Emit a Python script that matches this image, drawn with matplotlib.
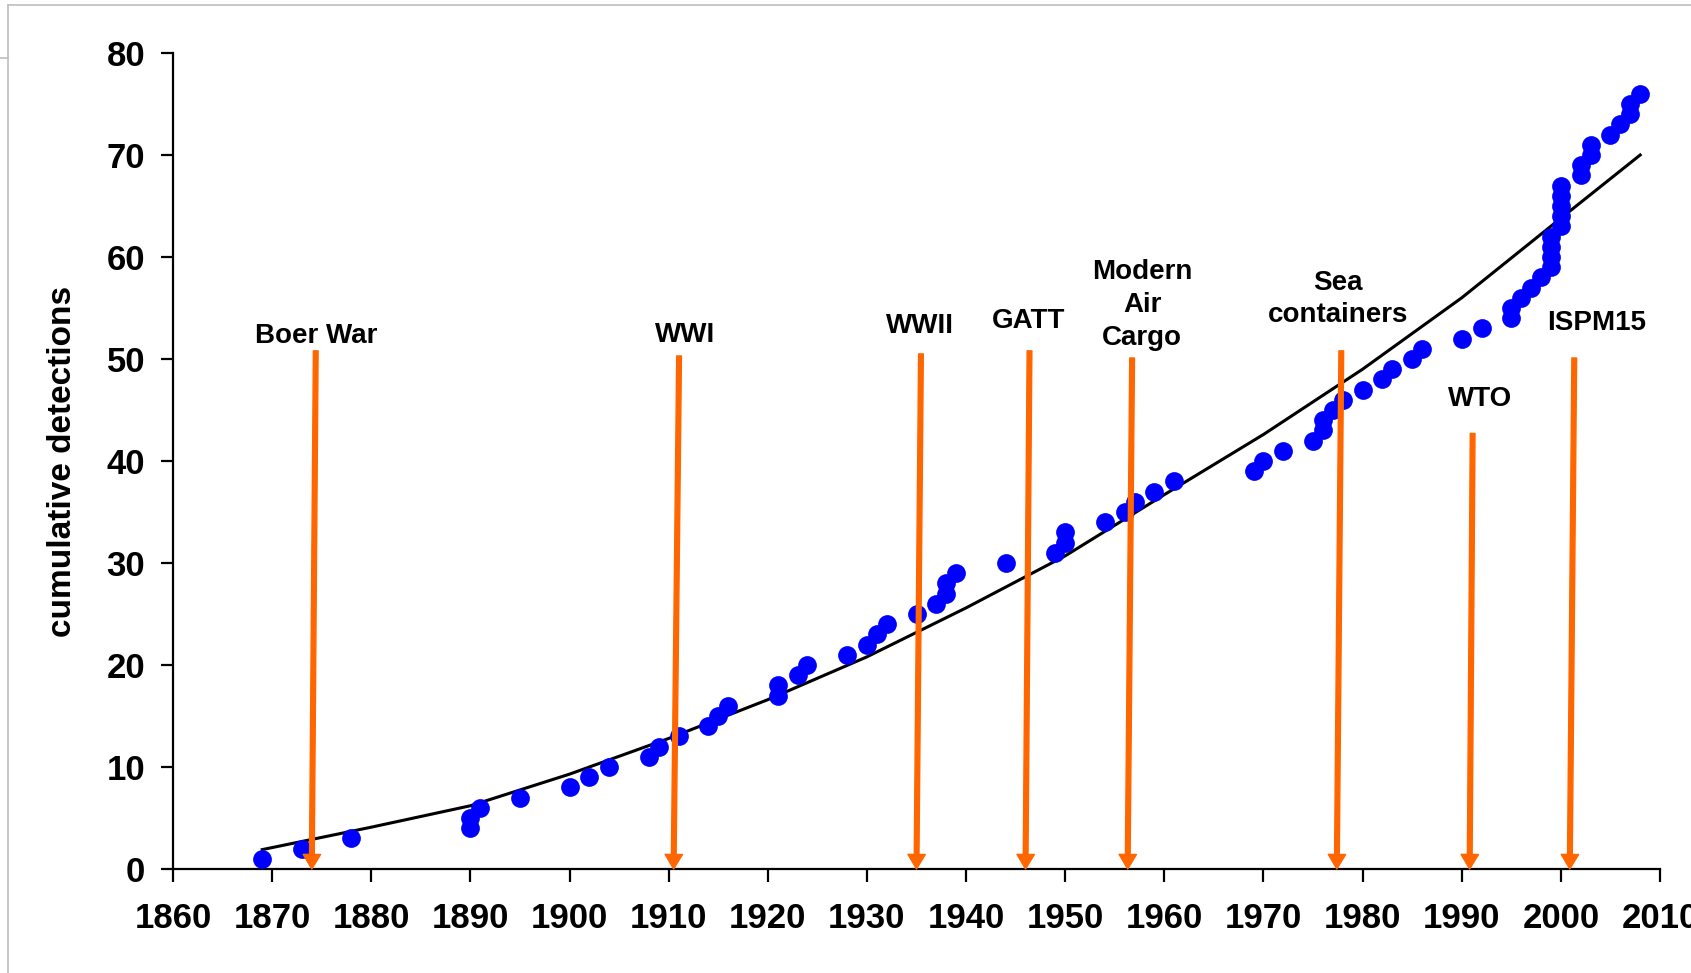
import matplotlib
matplotlib.use("Agg")
import matplotlib.pyplot as plt
from matplotlib.lines import Line2D

plt.rcParams['font.family'] = ['Liberation Sans', 'DejaVu Sans']
plt.rcParams['font.weight'] = 'bold'

# ---- data -------------------------------------------------------------
years = [1869, 1873, 1878, 1890, 1890, 1891, 1895, 1900, 1902, 1904,
         1908, 1909, 1911, 1914, 1915, 1916, 1921, 1921, 1923, 1924,
         1928, 1930, 1931, 1932, 1935, 1937, 1938, 1938, 1939, 1944,
         1949, 1950, 1950, 1954, 1956, 1957, 1959, 1961, 1969, 1970,
         1972, 1975, 1976, 1976, 1977, 1978, 1980, 1982, 1983, 1985,
         1986, 1990, 1992, 1995, 1995, 1996, 1997, 1998, 1999, 1999,
         1999, 1999, 2000, 2000, 2000, 2000, 2000, 2002, 2002, 2003,
         2003, 2005, 2006, 2007, 2007, 2008]
detections = list(range(1, len(years) + 1))

trend_years = [1869, 1880, 1890, 1900, 1910, 1920, 1930, 1940, 1950,
               1960, 1970, 1980, 1990, 2000, 2008]
trend_values = [1.9, 4.1, 6.2, 9.3, 12.8, 16.6, 20.8, 25.6, 30.7,
                36.7, 42.6, 49.0, 56.0, 63.8, 70.0]

events = ['Boer War', 'WWI', 'WWII', 'GATT', 'Modern\nAir\nCargo',
          'Sea\ncontainers', 'WTO', 'ISPM15']
event_years = [1874, 1910.5, 1935, 1946, 1956.3, 1977.4, 1990.8, 2000.9]

x_ticks = list(range(1860, 2011, 10))
y_ticks = list(range(0, 81, 10))

# ---- layout (not data) -----------------------------------------------
arrow_top_value = [50.8, 50.3, 50.5, 50.8, 50.1, 50.8, 42.7, 50.1]
arrow_tilt = [0.4, 0.55, 0.45, 0.4, 0.45, 0.45, 0.3, 0.45]
label_dx = [0.0, 0.6, -0.1, -0.1, 1.0, -0.3, 0.7, 2.3]
label_value = [52.3, 52.4, 53.2, 53.7, 55.3, 55.9, 46.1, 53.5]

W, H, DPI = 1691, 973, 100
fig = plt.figure(figsize=(W / DPI, H / DPI), dpi=DPI)
fig.patch.set_facecolor('white')

# thin grey screenshot frame
grey = '#BDBDBD'
fig.add_artist(Line2D([8 / W, 1.0], [1 - 5 / H, 1 - 5 / H], color=grey, lw=1.2,
                      transform=fig.transFigure))
fig.add_artist(Line2D([8 / W, 8 / W], [1 - 5 / H, 0.0], color=grey, lw=1.2,
                      transform=fig.transFigure))
fig.add_artist(Line2D([0, 8 / W], [1 - 58 / H, 1 - 58 / H], color=grey, lw=1.2,
                      transform=fig.transFigure))

ax = fig.add_axes([173 / W, 1 - 869 / H, (1660 - 173) / W, (869 - 53) / H])

ax.plot(trend_years, trend_values, color='black', lw=2.2, zorder=2)
ax.plot(years, detections, 'o', color='#0000FF', markersize=13.5,
        markeredgewidth=0, zorder=3)

orange = '#FF6600'
for i, (lab, yr) in enumerate(zip(events, event_years)):
    top_x = yr + arrow_tilt[i]
    ax.annotate('', xy=(yr, 0), xytext=(top_x, arrow_top_value[i]),
                arrowprops=dict(width=3.4, headwidth=12.5, headlength=10.5,
                                shrink=0, facecolor=orange, edgecolor=orange),
                annotation_clip=False, zorder=4)
    ax.text(top_x + label_dx[i], label_value[i], lab, ha='center', va='center',
            fontsize=20, fontweight='bold', linespacing=1.33, zorder=5)

ax.set_xlim(1860, 2010)
ax.set_ylim(0, 80)
ax.set_xticks(x_ticks)
ax.set_yticks(y_ticks)
ax.tick_params(axis='both', labelsize=25, width=1.6, length=9, direction='out')
ax.tick_params(axis='x', pad=15)
ax.tick_params(axis='y', pad=11)
for lab in ax.get_xticklabels() + ax.get_yticklabels():
    lab.set_fontweight('bold')

for s in ['top', 'right']:
    ax.spines[s].set_visible(False)
for s in ['left', 'bottom']:
    ax.spines[s].set_linewidth(1.6)

fig.text(62.5 / W, 1 - 461 / H, 'cumulative detections', rotation=90,
         ha='center', va='center', fontsize=24, fontweight='bold')

fig.savefig('out.png', dpi=DPI, facecolor='white')
